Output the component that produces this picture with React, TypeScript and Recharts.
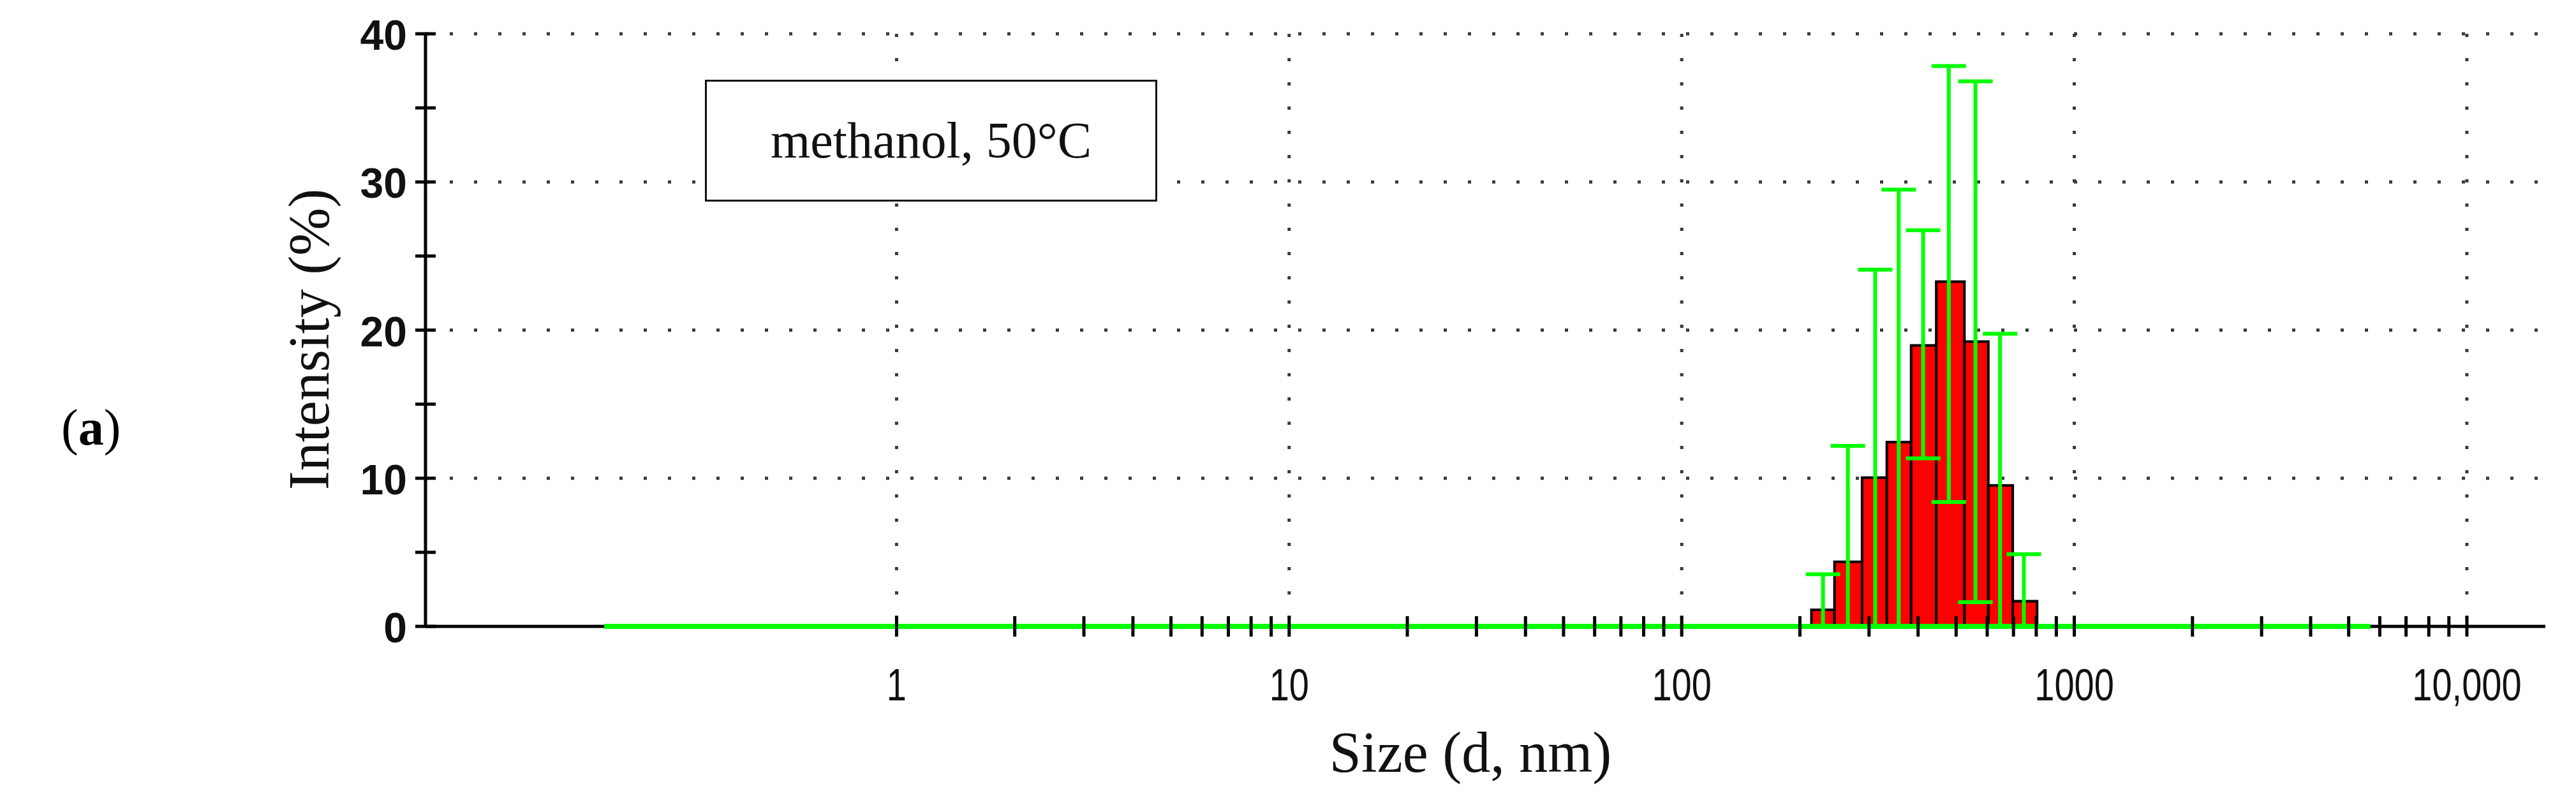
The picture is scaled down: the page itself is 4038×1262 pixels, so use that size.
import React from 'react';
import {
  ComposedChart,
  XAxis,
  YAxis,
  CartesianGrid,
  ReferenceArea,
  Scatter,
  ErrorBar,
  Line,
} from 'recharts';

// ---- data ----
// histogram bin edges (nm)
const binEdges = [214, 245, 288, 333, 384, 445, 525, 604, 697, 804];
// error-bar positions (bin centres, nm)
const binCenters = [229, 265, 311, 357, 412, 479, 560, 647, 744];
// intensity (%) of each bin
const intensity = [1.12, 4.36, 10.04, 12.44, 18.97, 23.27, 19.23, 9.52, 1.7];
// top / bottom of each error bar (%)
const errTop = [3.52, 12.18, 24.08, 29.48, 26.74, 37.83, 36.79, 19.75, 4.88];
const errBottom = [0, 0, 0, 0, 11.35, 8.4, 1.64, 0, 0];
// extent of the green zero-line (nm)
const baselineX = [0.18, 5680];
// axis range
const xDomain = [0.0631, 15849];
const yDomain = [0, 40];
// ticks
const xTicks = [
  1, 2, 3, 4, 5, 6, 7, 8, 9,
  10, 20, 30, 40, 50, 60, 70, 80, 90,
  100, 200, 300, 400, 500, 600, 700, 800, 900,
  1000, 2000, 3000, 4000, 5000, 6000, 7000, 8000, 9000,
  10000,
];
const xTickLabels: Record<number, string> = {
  1: '1',
  10: '10',
  100: '100',
  1000: '1000',
  10000: '10,000',
};
const yTicks = [0, 5, 10, 15, 20, 25, 30, 35, 40];
const yTickLabels = [0, 10, 20, 30, 40];
const gridX = [1, 10, 100, 1000, 10000];
const gridY = [10, 20, 30, 40];

const legendText = 'methanol, 50°C';
const xTitle = 'Size (d, nm)';
const yTitle = 'Intensity (%)';

// ---- derived tables ----
const bars = intensity.map((v, i) => ({ x1: binEdges[i], x2: binEdges[i + 1], y: v }));
const errData = binCenters.map((c, i) => ({
  x: c,
  y: intensity[i],
  err: [intensity[i] - errBottom[i], errTop[i] - intensity[i]],
}));
const greenLine = baselineX.map((x) => ({ x, y: 0 }));
const blackLine = xDomain.map((x) => ({ x, y: 0 }));

const GREEN = '#00FF00';

const XTick = (props: any) => {
  const { x, y, payload } = props;
  const label = xTickLabels[payload.value];
  return (
    <g>
      <line x1={x} x2={x} y1={y - 16} y2={y + 16} stroke="#000" strokeWidth={5} />
      {label ? (
        <text
          transform={`translate(${x},${y + 116}) scale(0.8,1)`}
          textAnchor="middle"
          fontSize={70}
          fontFamily="'Liberation Sans', Arial, sans-serif"
          fill="#111"
        >
          {label}
        </text>
      ) : null}
    </g>
  );
};

const YTick = (props: any) => {
  const { x, y, payload } = props;
  const show = yTickLabels.includes(payload.value);
  return (
    <g>
      <line x1={x - 16} x2={x + 16} y1={y} y2={y} stroke="#000" strokeWidth={5} />
      {show ? (
        <text
          x={x - 29}
          y={y + 25}
          textAnchor="end"
          fontSize={66}
          fontWeight="bold"
          fontFamily="'Liberation Sans', Arial, sans-serif"
          fill="#111"
        >
          {payload.value}
        </text>
      ) : null}
    </g>
  );
};

export default function App() {
  return (
    <div style={{ position: 'absolute', left: 0, top: 0, width: 4038, height: 1262, background: '#fff' }}>
      <ComposedChart
        width={4038}
        height={1262}
        margin={{ top: 53, right: 48, bottom: 0, left: 0 }}
      >
        <CartesianGrid
          horizontalValues={gridY}
          verticalValues={gridX}
          stroke="#3a3a3a"
          strokeWidth={5}
          strokeDasharray="5 33"
        />
        <XAxis
          type="number"
          dataKey="x"
          scale="log"
          domain={xDomain}
          allowDataOverflow
          ticks={xTicks}
          interval={0}
          height={280}
          tickSize={0}
          tickMargin={0}
          axisLine={false}
          tickLine={false}
          tick={<XTick />}
          label={{
            content: () => (
              <text
                x={2305}
                y={1210}
                textAnchor="middle"
                fontSize={90}
                fontFamily="'Liberation Serif', 'Times New Roman', serif"
                fill="#111"
              >
                {xTitle}
              </text>
            ),
          }}
        />
        <YAxis
          type="number"
          domain={yDomain}
          ticks={yTicks}
          interval={0}
          width={667}
          tickSize={0}
          tickMargin={0}
          axisLine={{ stroke: '#000', strokeWidth: 5 }}
          tickLine={false}
          tick={<YTick />}
          label={{
            content: () => (
              <text
                transform="translate(515,532) rotate(-90)"
                textAnchor="middle"
                fontSize={90}
                fontFamily="'Liberation Serif', 'Times New Roman', serif"
                fill="#111"
              >
                {yTitle}
              </text>
            ),
          }}
        />
        {bars.map((b, i) => (
          <ReferenceArea
            key={i}
            x1={b.x1}
            x2={b.x2}
            y1={0}
            y2={b.y}
            fill="#FF0000"
            fillOpacity={1}
            stroke="#000"
            strokeWidth={4}
            ifOverflow="visible"
          />
        ))}
        <Line
          data={blackLine}
          dataKey="y"
          stroke="#000"
          strokeWidth={5}
          dot={false}
          activeDot={false}
          isAnimationActive={false}
        />
        <Line
          data={greenLine}
          dataKey="y"
          stroke={GREEN}
          strokeWidth={8}
          dot={false}
          activeDot={false}
          isAnimationActive={false}
        />
        <Scatter
          data={errData}
          dataKey="y"
          shape={() => <g />}
          isAnimationActive={false}
        >
          <ErrorBar
            dataKey="err"
            direction="y"
            width={27}
            stroke={GREEN}
            strokeWidth={6}
            isAnimationActive={false}
          />
        </Scatter>
      </ComposedChart>

      <div
        style={{
          position: 'absolute',
          left: 1105,
          top: 125,
          width: 709,
          height: 191,
          boxSizing: 'border-box',
          border: '3px solid #111',
          display: 'flex',
          alignItems: 'center',
          justifyContent: 'center',
          fontFamily: "'Liberation Serif', 'Times New Roman', serif",
          fontSize: 80,
          color: '#111',
          background: '#fff',
        }}
      >
        {legendText}
      </div>

      <div
        style={{
          position: 'absolute',
          left: 96,
          top: 620,
          fontFamily: "'Liberation Serif', 'Times New Roman', serif",
          fontSize: 80,
          lineHeight: '100px',
          color: '#000',
        }}
      >
        (<b>a</b>)
      </div>
    </div>
  );
}
